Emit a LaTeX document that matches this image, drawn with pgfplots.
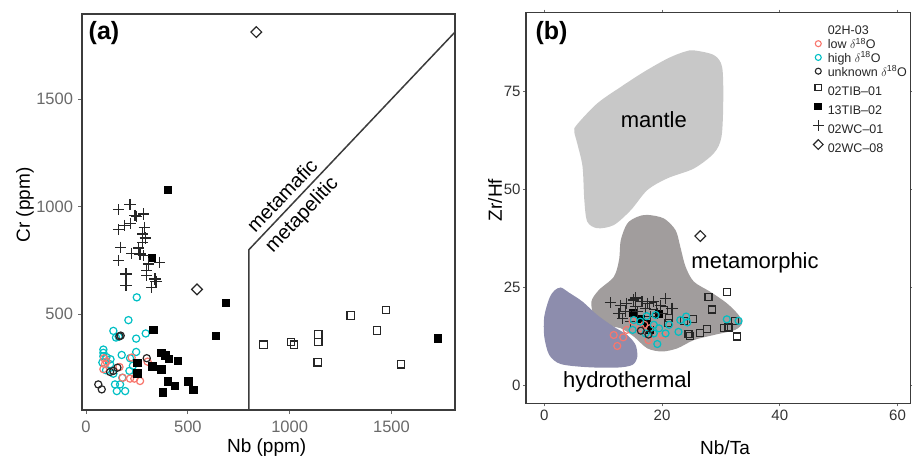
\documentclass[border=0pt]{standalone}
\usepackage{fontspec}
\setmainfont{Liberation Sans}
\usepackage{pgfplots}
\pgfplotsset{compat=1.18}
\definecolor{lowred}{HTML}{F8766D}
\definecolor{highcyan}{HTML}{00BFC4}
\definecolor{tickgray}{RGB}{105,105,105}
\definecolor{framegray}{RGB}{60,60,60}
\definecolor{mantlegray}{RGB}{200,200,200}
\definecolor{metagray}{RGB}{161,157,157}
\definecolor{hydroblue}{RGB}{141,141,173}
\newcommand{\fs}[1]{\fontsize{#1}{#1}\selectfont}
\newcommand{\strA}{\rule[-2.25pt]{0pt}{13.5pt}}
\newcommand{\strB}{\rule[-7.5pt]{0pt}{24pt}}
\newcommand{\dO}{$\delta$\textsuperscript{18}O}

\pgfplotsset{
  panel/.style={
    scale only axis, anchor=south west,
    axis line style={draw=framegray, line width=1.5pt},
    tick align=outside, major tick length=4pt,
    tick style={tickgray, line width=1pt},
    ticklabel style={font=\fs{16.5}, text=tickgray},
    /pgf/number format/assume math mode=true,
    /pgf/number format/1000 sep={},
  },
  every axis plot/.append style={line width=1.2pt},
}

\begin{document}
\begin{tikzpicture}[x=1pt,y=1pt]
\useasboundingbox (0,0) rectangle (912,458);

% ---------- (a) ----------
\begin{axis}[panel, at={(82pt,48pt)}, width=373pt, height=396pt,
  xmin=-20, xmax=1812, ymin=54, ymax=1896,
  xtick={0,500,1000,1500}, ytick={500,1000,1500},
  tick pos=left,
  xticklabel style={yshift=-3pt}, yticklabel style={xshift=-1.5pt}]
\addplot[framegray, line width=1.5pt] coordinates {(800,54) (800,800) (1812,1812)};
% 02H-03 high
\addplot[only marks, mark=o, mark size=3.6, highcyan] coordinates {
 (249,578)(208,472)(134,422)(147,391)(160,395)(246,386)(293,410)(85,335)(85,320)
 (175,310)(246,324)(85,304)(118,267)(216,295)(98,239)(134,223)(213,236)(178,204)
 (142,173)(167,173)(151,142)(192,142)(80,275)(100,300)(120,290)(230,260)};
% 02H-03 low
\addplot[only marks, mark=o, mark size=3.6, lowred] coordinates {
 (88,295)(93,267)(164,254)(224,298)(302,279)(180,204)(216,200)(237,200)(265,189)
 (85,244)(100,280)};
% 02H-03 unknown
\addplot[only marks, mark=o, mark size=3.6, black!85] coordinates {
 (164,397)(298,295)(118,231)(134,236)(154,251)(60,173)(77,150)(249,223)(170,400)};
% 13TIB-02
\addplot[only marks, mark=square*, mark size=3.6, black] coordinates {
 (403,1078)(324,761)(688,553)(639,397)(332,425)(370,318)(391,307)(408,290)(452,281)
 (252,274)(326,256)(370,242)(252,223)(403,186)(436,167)(504,186)(527,148)(378,136)
 (1729,386)};
% 02TIB-01
\addplot[only marks, mark=square, mark size=3.7, black!85] coordinates {
 (871,358)(1007,371)(1022,358)(1141,405)(1141,371)(1138,276)(1300,494)(1429,424)
 (1473,519)(1547,267)};
% 02WC-01
\addplot[only marks, mark=+, mark size=5.6, black!85] coordinates {
 (159,985)(216,1010)(249,954)(282,966)(187,912)(159,892)(219,923)(285,904)(278,873)
 (291,854)(278,834)(170,811)(259,808)(224,783)(265,780)(282,772)(159,749)(306,733)
 (360,741)(196,687)(298,702)(298,680)(339,663)(196,632)(323,624)(343,650)(240,960)};
% 02WC-08
\addplot[only marks, mark=square, mark options={rotate=45}, mark size=3.8, black!85]
 coordinates {(836,1812)(545,615)};
\node[rotate=46.5, font=\fs{20}] at (axis cs:962,1052) {metamafic};
\node[rotate=46.5, font=\fs{20}] at (axis cs:1062,960) {metapelitic};
\end{axis}

% ---------- (b) ----------
\begin{axis}[panel, at={(526pt,54.7pt)}, width=384.5pt, height=390.6pt,
  xmin=-3.1, xmax=62.2, ymin=-4.5, ymax=95,
  xtick={0,20,40,60}, ytick={0,25,50,75},
  major tick length=3pt,
  ticklabel style={font=\fs{15}, text=black!80},
  yticklabel style={xshift=1pt},
  xtick pos=both, ytick pos=both, xticklabel pos=lower, yticklabel pos=left,
  legend style={at={(axis description cs:0.744,0.974)}, anchor=north west,
    draw=none, fill=none, inner sep=0pt, font=\fs{12.5}, text=black!85,
    row sep=0pt, column sep=3pt, nodes={inner sep=0.5pt}},
  legend cell align=left,
  legend image code/.code={\path[draw=none, fill=none] (-6pt,-3pt) rectangle (6pt,3pt);
    \draw[#1] plot coordinates {(0pt,0pt)};}]
\addlegendimage{empty legend}
\addlegendentry{\strA 02H-03}
\addlegendimage{only marks, mark=o, mark size=3, lowred, line width=1.1pt}
\addlegendentry{\strA low \dO}
\addlegendimage{only marks, mark=o, mark size=3, highcyan, line width=1.1pt}
\addlegendentry{\strA high \dO}
\addlegendimage{only marks, mark=o, mark size=3, black!85, line width=1.1pt}
\addlegendentry{\strA unknown \dO}
\addlegendimage{only marks, mark=square, mark size=3.3, black!85, line width=1.1pt}
\addlegendentry{\strB 02TIB--01}
\addlegendimage{only marks, mark=square*, mark size=3.3, black}
\addlegendentry{\strB 13TIB--02}
\addlegendimage{only marks, mark=+, mark size=5.5, black!85, line width=1.1pt}
\addlegendentry{\strB 02WC--01}
\addlegendimage{only marks, mark=square, mark options={rotate=45}, mark size=3.4, black!85, line width=1.1pt}
\addlegendentry{\strB 02WC--08}

% fields
\addplot[forget plot, fill=mantlegray, draw=none, smooth cycle, tension=0.5] coordinates {
 (25.4,85.4)(28.8,84.2)(30.2,81.2)(30.4,72.7)(30.1,63.4)(28.8,59.2)(25.4,55.3)
 (20.9,52.8)(17.5,49.8)(14.7,44.7)(11.8,40.9)(9.0,40.1)(7.3,41.8)(6.8,47.3)
 (6.5,55.8)(5.6,61.7)(5.1,64.7)(5.5,66.4)(9.0,71.9)(13.0,76.1)(16.9,79.9)
 (20.9,83.3)(23.7,85.0)};
\addplot[forget plot, fill=metagray, draw=none, smooth cycle, tension=0.5] coordinates {
 (17.5,43.5)(20.3,42.6)(22.3,39.6)(23.1,35.4)(24.0,30.3)(25.4,26.5)(28.2,23.9)
 (31.0,21.0)(33.0,18.0)(33.6,15.9)(32.4,14.2)(28.8,12.9)(25.4,11.6)(22.6,9.5)
 (20.0,8.7)(17.5,9.5)(15.2,12.5)(13.0,14.6)(10.2,15.5)(8.5,17.6)(8.0,21.4)
 (9.3,24.4)(11.8,27.7)(12.7,32.0)(13.0,37.1)(14.1,41.3)(15.8,43.0)};
\addplot[forget plot, fill=hydroblue, draw=none, smooth cycle, tension=0.5] coordinates {
 (2.8,25.0)(4.2,23.7)(6.5,21.4)(9.0,18.0)(11.8,15.0)(14.1,12.9)(15.5,10.4)
 (15.8,7.4)(15.0,5.3)(12.4,4.6)(7.3,4.7)(2.8,5.5)(0.85,7.8)(0.0,12.5)
 (0.0,17.6)(0.85,22.2)(1.7,24.2)};
\node[font=\fs{22}] at (axis cs:18.6,67.8) {mantle};
\node[font=\fs{22}] at (axis cs:35.8,31.2) {metamorphic};
\node[font=\fs{22}] at (axis cs:14.1,1.0) {hydrothermal};

% 02TIB-01
\addplot[forget plot, only marks, mark=square, mark size=3.5, black!85] coordinates {
 (27.9,22.5)(31.0,23.9)(28.5,19.4)(21.2,17.2)(25.2,16.9)(23.7,16.5)(24.5,13.1)
 (24.8,12.7)(26.5,13.5)(27.6,14.4)(30.5,14.6)(31.3,14.8)(32.4,16.5)(32.8,12.5)
 (20.3,19.3)(18.5,20.3)(21.0,16.0)};
% 13TIB-02
\addplot[forget plot, only marks, mark=square*, mark size=3.4, black] coordinates {
 (16.5,17.0)(18.0,14.2)(19.5,18.2)(15.0,18.5)(17.2,15.8)};
% 02WC-01
\addplot[forget plot, only marks, mark=+, mark size=5.6, black!85] coordinates {
 (11.2,21.1)(13.0,20.5)(15.2,21.8)(15.5,20.1)(13.8,18.8)(13.3,17.2)(15.8,18.8)
 (17.2,19.7)(18.6,21.4)(19.7,20.5)(20.6,22.2)(21.7,19.7)(18.1,17.6)(14.7,16.3)
 (16.6,21.4)(12.7,18.4)(19.2,18.4)(15.5,22.3)(14.0,20.9)(17.5,21.0)};
% low
\addplot[forget plot, only marks, mark=o, mark size=3.5, lowred] coordinates {
 (11.8,12.9)(12.4,10.1)(13.4,12.3)(14.0,14.2)(15.0,16.5)(16.4,14.6)(17.0,15.5)
 (17.9,14.6)(17.7,11.6)(20.0,12.9)};
% high
\addplot[forget plot, only marks, mark=o, mark size=3.5, highcyan] coordinates {
 (15.2,16.7)(17.4,17.7)(18.9,18.0)(15.0,14.2)(16.3,16.3)(18.6,15.5)(19.5,14.6)
 (18.6,13.3)(19.2,10.6)(21.2,15.5)(22.8,13.7)(23.1,16.7)(24.1,17.6)(24.3,16.1)
 (31.0,16.9)(33.0,16.5)(20.6,13.3)(17.2,13.3)};
% unknown
\addplot[forget plot, only marks, mark=o, mark size=3.5, black!85] coordinates {
 (17.7,13.0)(16.4,14.0)};
% 02WC-08
\addplot[forget plot, only marks, mark=square, mark options={rotate=45}, mark size=3.8, black!85]
 coordinates {(26.5,38.1)};
\end{axis}

% labels
\node[font=\bfseries\fs{25}] at (104,425) {(a)};
\node[font=\bfseries\fs{25}] at (551.5,424.7) {(b)};
\node[font=\fs{19}] at (266.7,10.5) {Nb (ppm)};
\node[font=\fs{19}, rotate=90] at (25,253) {Cr (ppm)};
\node[font=\fs{19}] at (725,10) {Nb/Ta};
\node[font=\fs{19}, rotate=90] at (495,258) {Zr/Hf};
\end{tikzpicture}
\end{document}
